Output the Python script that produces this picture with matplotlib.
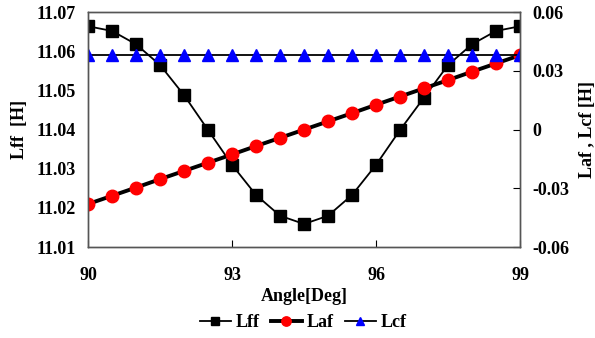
import matplotlib
matplotlib.use("Agg")
import matplotlib.pyplot as plt

angle = [90, 90.5, 91, 91.5, 92, 92.5, 93, 93.5, 94, 94.5, 95, 95.5, 96, 96.5, 97, 97.5, 98, 98.5, 99]
lff = [11.0664, 11.0652, 11.0618, 11.0565, 11.0488, 11.0399, 11.0310, 11.0233, 11.0180, 11.0159,
       11.0180, 11.0233, 11.0310, 11.0399, 11.0482, 11.0565, 11.0618, 11.0652, 11.0664]
laf = [-0.0380, -0.0338, -0.0296, -0.0253, -0.0211, -0.0169, -0.0127, -0.0084, -0.0042, 0.0000,
       0.0042, 0.0084, 0.0127, 0.0169, 0.0211, 0.0253, 0.0296, 0.0338, 0.0380]
lcf = [0.0380] * 19

plt.rcParams['font.family'] = ['Liberation Serif', 'DejaVu Serif']
plt.rcParams['font.weight'] = 'bold'

fig = plt.figure(figsize=(5.95, 3.38), dpi=100)
ax = fig.add_axes([0.148, 0.269, 0.726, 0.695])
ax2 = ax.twinx()

l1, = ax.plot(angle, lff, color='black', lw=1.3, marker='s', ms=8, mfc='black', mec='black', label='Lff')
l2, = ax2.plot(angle, laf, color='black', lw=2.8, marker='o', ms=9, mfc='red', mec='red', label='Laf')
l3, = ax2.plot(angle, lcf, color='black', lw=1.3, marker='^', ms=8, mfc='blue', mec='blue', label='Lcf')

ax.set_xlim(90, 99)
ax.set_ylim(11.01, 11.07)
ax2.set_ylim(-0.06, 0.06)
ax.set_xticks([90, 93, 96, 99])
ax.set_yticks([11.01, 11.02, 11.03, 11.04, 11.05, 11.06, 11.07])
ax.set_yticklabels(['11.01', '11.02', '11.03', '11.04', '11.05', '11.06', '11.07'])
ax2.set_yticks([-0.06, -0.03, 0, 0.03, 0.06])
ax2.set_yticklabels(['-0.06', '-0.03', '0', '0.03', '0.06'])

ax.tick_params(axis='x', direction='in', length=5, pad=14, labelsize=13)
ax.tick_params(axis='y', direction='in', length=0, pad=9, labelsize=13)
ax2.tick_params(axis='y', direction='in', length=5, pad=9, labelsize=13)

for a in (ax, ax2):
    for s in a.spines.values():
        s.set_color('#555555')
        s.set_linewidth(1.0)

ax.set_xlabel('Angle[Deg]', fontsize=13, fontweight='bold', labelpad=3)
ax.set_ylabel('Lff  [H]', fontsize=13, fontweight='bold', labelpad=6)
ax2.set_ylabel('Laf , Lcf [H]', fontsize=13, fontweight='bold', rotation=90, labelpad=7)

fig.legend([l1, l2, l3], ['Lff', 'Laf', 'Lcf'], loc='center', bbox_to_anchor=(0.51, 0.045),
           ncol=3, frameon=False, fontsize=13, handlelength=1.7, handletextpad=0.3,
           columnspacing=0.6, markerscale=0.75)

fig.savefig('out.png', dpi=100)
